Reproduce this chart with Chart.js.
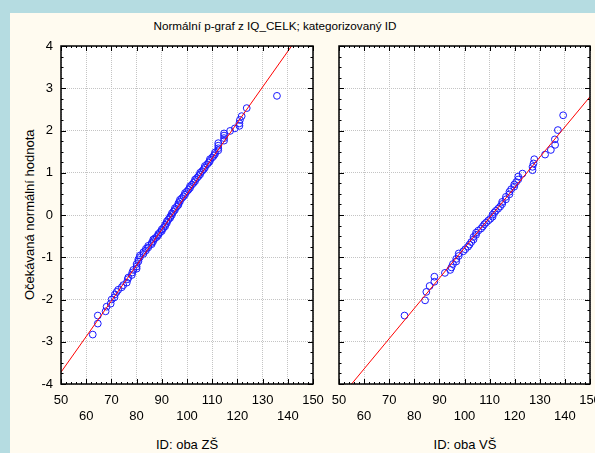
<!DOCTYPE html>
<html>
<head>
<meta charset="utf-8">
<script src="https://cdn.jsdelivr.net/npm/chart.js@4.4.1/dist/chart.umd.min.js"></script>
<style>
  html, body { margin: 0; padding: 0; }
  body { width: 595px; height: 453px; overflow: hidden; position: relative; background: #b5dce1; font-family: "Liberation Sans", Arial, sans-serif; }
  #paper { position: absolute; left: 10px; top: 13px; right: 0; bottom: 0; background: #fffbf0; z-index: 0; }
  canvas { position: absolute; top: 0; z-index: 2; }
  #leftChart { left: 0; }
  #rightChart { left: 330px; z-index: 3; }
  .txt { position: absolute; color: #000; white-space: nowrap; font-size: 13px; font-weight: normal; z-index: 1; }
  #title { left: 275px; top: 25px; transform: translate(-50%, -50%); font-size: 11.7px; }
  #ylab { left: 22px; top: 128px; height: 174px; writing-mode: vertical-rl; transform: rotate(180deg); text-align: center; }
  #xlabL { left: 187px; top: 444px; transform: translate(-50%, -50%); }
  #xlabR { left: 465px; top: 444px; transform: translate(-50%, -50%); }
</style>
</head>
<body>
<div id="paper"></div>
<div class="txt" id="title">Normální p-graf z IQ_CELK; kategorizovaný ID</div>
<div class="txt" id="ylab">Očekávaná normální hodnota</div>
<div class="txt" id="xlabL">ID: oba ZŠ</div>
<div class="txt" id="xlabR">ID: oba VŠ</div>
<canvas id="leftChart" width="330" height="453"></canvas>
<canvas id="rightChart" width="265" height="453"></canvas>
<script>
// ID: oba ZŠ  (observed IQ vs expected normal value)
const zsIQ = [62.6, 64.6, 64.6, 67.7, 68.1, 69.7, 70.1, 71.2, 71.4, 72.1, 72.7, 74.1, 74.7, 76.1, 76.5, 76.7,
  78.1, 78.3, 78.7, 80, 80, 80, 80.7, 80.7, 81.3, 81.3, 82.7, 82.7, 83.7, 83.7, 84.6, 84.6, 86, 86, 86.6, 86.6,
  87.3, 88, 88.6, 88.6, 89.3, 90, 90, 90.6, 91.3, 91.3, 92, 92, 92.6, 93.3, 93.3, 94, 94, 94.6, 95.2, 95.2,
  96, 96.6, 96.6, 97.2, 97.2, 98, 98.6, 99.2, 99.2, 100, 100.6, 101.2, 101.2, 102, 102.6, 103.2, 103.2, 104,
  104.6, 105.2, 105.2, 106, 106.6, 107.1, 107.1, 108, 108.6, 109.1, 109.1, 110, 110.6, 111.1, 111.1, 112.4,
  112.4, 112.4, 112.4, 114.7, 114.7, 114.7, 114.7, 117.1, 119, 120.8, 120.8, 121, 121.7, 123.7, 135.7];
const zsExpected = [-2.83, -2.57, -2.38, -2.28, -2.17, -2.1, -2, -1.95, -1.88, -1.82, -1.77, -1.71, -1.66, -1.6,
  -1.52, -1.48, -1.42, -1.36, -1.3, -1.27, -1.22, -1.16, -1.1, -1.05, -1, -0.96, -0.92, -0.88, -0.84, -0.8,
  -0.77, -0.73, -0.69, -0.66, -0.62, -0.58, -0.55, -0.52, -0.48, -0.45, -0.41, -0.38, -0.34, -0.31, -0.27,
  -0.23, -0.19, -0.15, -0.11, -0.07, -0.04, 0, 0.04, 0.08, 0.12, 0.16, 0.2, 0.24, 0.28, 0.32, 0.36, 0.4, 0.44,
  0.48, 0.52, 0.56, 0.6, 0.64, 0.68, 0.72, 0.76, 0.8, 0.84, 0.88, 0.92, 0.96, 1, 1.04, 1.08, 1.12, 1.16, 1.2,
  1.24, 1.28, 1.32, 1.36, 1.4, 1.44, 1.48, 1.53, 1.58, 1.64, 1.7, 1.76, 1.82, 1.88, 1.93, 1.99, 2.05, 2.11,
  2.17, 2.25, 2.34, 2.53, 2.82];
const zsLineX = [50, 141.5];
const zsLineY = [-3.72, 4];

// ID: oba VŠ
const vsIQ = [76.1, 84.3, 84.8, 86.1, 88, 88, 92.2, 94.3, 94.8, 95.4, 96.7, 96.7, 97.7, 97.7, 99.5, 100.3,
  101.4, 102, 102.7, 103.6, 103.6, 104.6, 104.6, 105.5, 106.6, 107.3, 107.9, 108.6, 109.5, 110.3, 111.2, 111.2,
  111.9, 112.5, 113.4, 114.2, 115, 115, 116.5, 116.5, 117.9, 117.9, 118.6, 119.8, 119.8, 120.6, 121.4, 121.4,
  123.1, 127.1, 127.1, 127.5, 127.8, 132.1, 134.4, 136.1, 136, 137.2, 139.3];
const vsExpected = [-2.38, -2.02, -1.82, -1.68, -1.58, -1.46, -1.37, -1.3, -1.24, -1.16, -1.1, -1.04, -0.97,
  -0.91, -0.86, -0.81, -0.75, -0.7, -0.64, -0.58, -0.52, -0.47, -0.42, -0.37, -0.32, -0.27, -0.22, -0.18,
  -0.13, -0.09, -0.04, 0.01, 0.06, 0.1, 0.15, 0.2, 0.26, 0.31, 0.37, 0.43, 0.49, 0.55, 0.61, 0.67, 0.72,
  0.78, 0.84, 0.91, 0.98, 1.06, 1.14, 1.22, 1.32, 1.43, 1.54, 1.66, 1.79, 2.01, 2.36];
const vsLineX = [55, 150];
const vsLineY = [-4, 2.8];

const xTicks = [50, 60, 70, 80, 90, 100, 110, 120, 130, 140, 150];
const yTicks = [-4, -3, -2, -1, 0, 1, 2, 3, 4];

const toPts = (xs, ys) => xs.map((x, i) => ({ x: x, y: ys[i] }));

// white plot area under the grid
const plotBg = {
  id: 'plotBg',
  beforeDraw(chart) {
    const a = chart.chartArea;
    const ctx = chart.ctx;
    ctx.save();
    ctx.fillStyle = '#ffffff';
    ctx.fillRect(a.left, a.top, a.right - a.left, a.bottom - a.top);
    ctx.restore();
  }
};

// black frame with inward major/minor ticks on all four sides
const frame = {
  id: 'frame',
  afterDatasetsDraw(chart) {
    const ctx = chart.ctx;
    const a = chart.chartArea;
    const xs = chart.scales.x, ys = chart.scales.y;
    ctx.save();
    ctx.strokeStyle = '#000';
    ctx.lineWidth = 1;
    ctx.beginPath();
    for (let v = 50; v <= 150; v += 2) {
      const px = Math.round(xs.getPixelForValue(v)) + 0.5;
      const len = v % 10 === 0 ? 5 : 2;
      ctx.moveTo(px, a.bottom); ctx.lineTo(px, a.bottom - len);
      ctx.moveTo(px, a.top); ctx.lineTo(px, a.top + len);
    }
    for (let v = -4; v <= 4; v += 0.25) {
      const py = Math.round(ys.getPixelForValue(v)) + 0.5;
      const len = Number.isInteger(v) ? 5 : 2.5;
      ctx.moveTo(a.left, py); ctx.lineTo(a.left + len, py);
      ctx.moveTo(a.right, py); ctx.lineTo(a.right - len, py);
    }
    ctx.stroke();
    ctx.lineWidth = 1.5;
    ctx.strokeRect(a.left, a.top, a.right - a.left, a.bottom - a.top);
    ctx.restore();
  }
};

function makeChart(id, iq, expected, lineX, lineY, showY, pad, yWidth) {
  return new Chart(document.getElementById(id), {
    type: 'scatter',
    data: {
      datasets: [
        {
          data: toPts(lineX, lineY),
          showLine: true,
          borderColor: '#ff0000',
          borderWidth: 1,
          pointRadius: 0,
          order: 0
        },
        {
          data: toPts(iq, expected),
          pointStyle: 'circle',
          pointRadius: 3.4,
          borderColor: '#1a1aff',
          backgroundColor: 'rgba(0,0,0,0)',
          pointBorderWidth: 1,
          order: 1
        }
      ]
    },
    options: {
      responsive: false,
      animation: false,
      devicePixelRatio: 1,
      layout: { padding: pad },
      plugins: { legend: { display: false }, tooltip: { enabled: false }, title: { display: false } },
      scales: {
        x: {
          type: 'linear', min: 50, max: 150,
          afterBuildTicks: s => { s.ticks = xTicks.map(v => ({ value: v })); },
          afterFit: s => { s.height = 69; s.paddingLeft = 0; s.paddingRight = 0; },
          grid: { color: '#c4c4c4', drawTicks: false },
          border: { display: false, dash: [1, 1] },
          ticks: {
            padding: 8,
            color: '#000',
            font: { family: 'Liberation Sans, Arial, sans-serif', size: 13, lineHeight: 1.23 },
            maxRotation: 0, autoSkip: false,
            callback: v => (xTicks.indexOf(v) % 2 === 0 ? [String(v), ''] : ['', String(v)])
          }
        },
        y: {
          type: 'linear', min: -4, max: 4,
          afterBuildTicks: s => { s.ticks = yTicks.map(v => ({ value: v })); },
          afterFit: s => { s.width = yWidth; },
          grid: { color: '#c4c4c4', drawTicks: false },
          border: { display: false, dash: [1, 1] },
          ticks: {
            display: showY,
            padding: 8,
            color: '#000',
            font: { family: 'Liberation Sans, Arial, sans-serif', size: 13 }
          }
        }
      }
    },
    plugins: [plotBg, frame]
  });
}

makeChart('leftChart', zsIQ, zsExpected, zsLineX, zsLineY, true, { top: 46, right: 17, left: 0, bottom: 0 }, 61);
makeChart('rightChart', vsIQ, vsExpected, vsLineX, vsLineY, false, { top: 46, right: 4, left: 9, bottom: 0 }, 0);
</script>
</body>
</html>
